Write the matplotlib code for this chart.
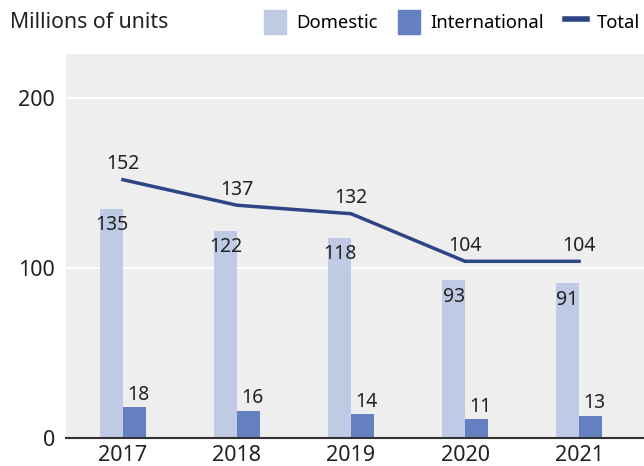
import matplotlib
matplotlib.use("Agg")
import matplotlib.pyplot as plt
from matplotlib.patches import Patch
from matplotlib.lines import Line2D

years = ["2017", "2018", "2019", "2020", "2021"]
domestic = [135, 122, 118, 93, 91]
international = [18, 16, 14, 11, 13]
total = [152, 137, 132, 104, 104]

c_dom = "#bfcbe4"
c_int = "#6580c0"
c_tot = "#2f4484"

plt.rcParams["font.family"] = ["Noto Sans", "DejaVu Sans"]

fig = plt.figure(figsize=(6.44, 4.66), dpi=100)
ax = fig.add_axes([66 / 644, 28 / 466, 578 / 644, 384 / 466])
ax.set_facecolor("#eeeeee")

x = list(range(len(years)))
w = 0.2
xd = [i - w / 2 for i in x]
xi = [i + w / 2 for i in x]
ax.bar(xd, domestic, width=w, color=c_dom, zorder=2)
ax.bar(xi, international, width=w, color=c_int, zorder=2)
ax.plot(x, total, color=c_tot, linewidth=2.5, zorder=3)

for i in x:
    ax.annotate(str(domestic[i]), (xd[i], domestic[i]), xytext=(0, -12),
                textcoords="offset points", ha="center", va="center",
                fontsize=14, color="#222222", zorder=4)
    ax.annotate(str(international[i]), (xi[i], international[i]), xytext=(3, 9),
                textcoords="offset points", ha="center", va="center",
                fontsize=14, color="#222222", zorder=4)
    ax.annotate(str(total[i]), (x[i], total[i]), xytext=(0, 11),
                textcoords="offset points", ha="center", va="center",
                fontsize=14, color="#222222", zorder=4)

ax.set_xlim(-0.5, 4.57)
ax.set_ylim(0, 226)
ax.set_yticks([0, 100, 200])
ax.set_xticks(x)
ax.set_xticklabels(years)
ax.grid(axis="y", color="white", linewidth=1.5, zorder=1)
ax.set_axisbelow(True)
ax.tick_params(length=0, labelsize=15.5, colors="#222222")
ax.tick_params(axis="y", pad=8)
ax.tick_params(axis="x", pad=5)
for s in ["left", "right", "top"]:
    ax.spines[s].set_visible(False)
ax.spines["bottom"].set_color("#333333")
ax.spines["bottom"].set_linewidth(1.5)

fig.text(10 / 644, 1 - 22 / 466, "Millions of units", fontsize=15.3,
         color="#222222", va="center", ha="left")

handles = [Patch(color=c_dom), Patch(color=c_int),
           Line2D([0], [0], color=c_tot, linewidth=4)]
fig.legend(handles, ["Domestic", "International", "Total"],
           loc="center right", bbox_to_anchor=(0.994, 1 - 22 / 466),
           ncol=3, frameon=False, fontsize=13.3, handlelength=1.2,
           handleheight=1.6, handletextpad=0.55, columnspacing=1.1,
           borderaxespad=0, borderpad=0)

plt.savefig("out.png", dpi=100)
plt.close()
